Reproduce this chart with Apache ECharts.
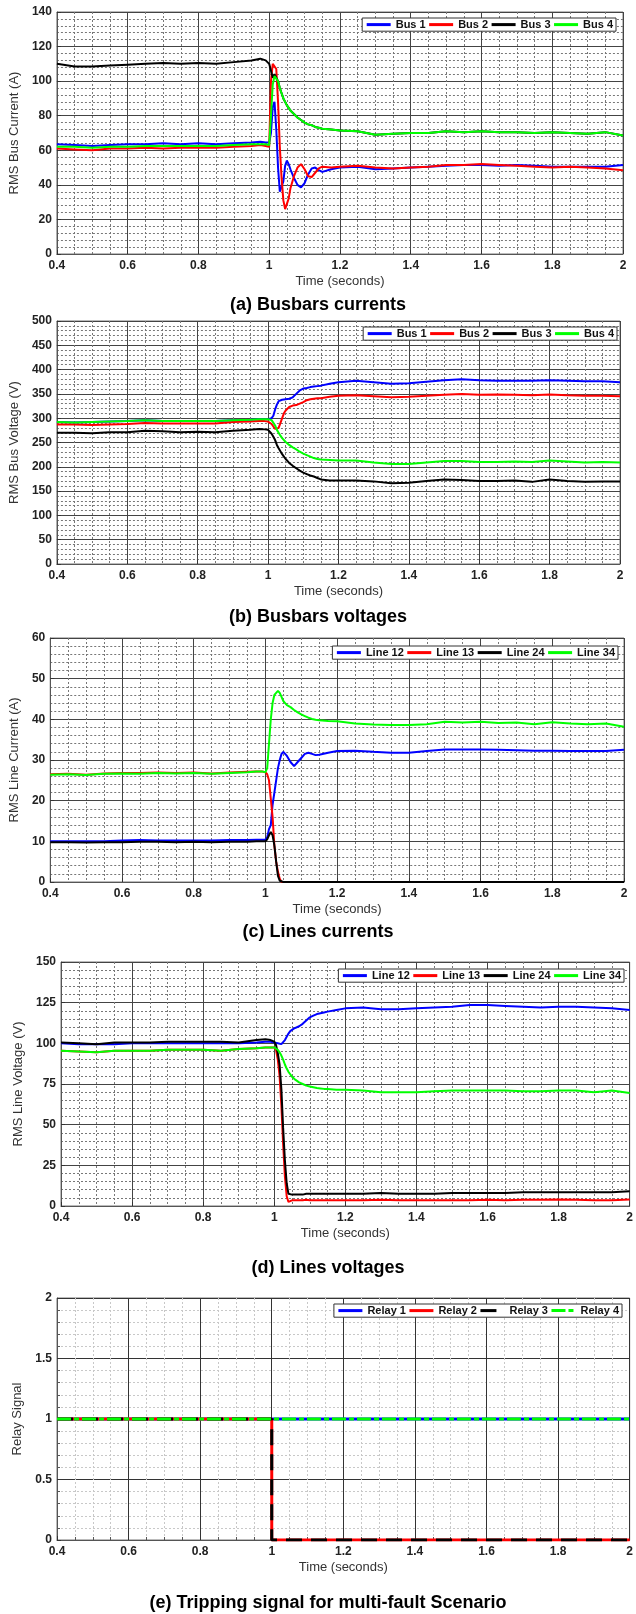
<!DOCTYPE html>
<html>
<head>
<meta charset="utf-8">
<title>Multi-fault scenario</title>
<script src="https://cdn.jsdelivr.net/npm/echarts@6/dist/echarts.min.js"></script>
<style>
html, body { margin: 0; padding: 0; background: #fff; }
#chart { width: 636px; height: 1614px; }
</style>
</head>
<body>
<div id="chart"></div>
<script>
"use strict";
// sample times shared by the four measured panels (seconds)
const tSim = [0.4, 0.45, 0.5, 0.55, 0.6, 0.65, 0.7, 0.75, 0.8, 0.85, 0.9, 0.95, 0.975, 0.99, 1.0,
  1.005, 1.01, 1.015, 1.02, 1.025, 1.03, 1.035, 1.04, 1.045, 1.05, 1.055, 1.06,
  1.07, 1.08, 1.09, 1.1, 1.11, 1.12, 1.13, 1.14, 1.15, 1.175,
  1.2, 1.25, 1.3, 1.35, 1.4, 1.45, 1.5, 1.55, 1.6, 1.65, 1.7, 1.75, 1.8, 1.85, 1.9, 1.95, 2.0];

// (a) busbar currents (A)
const busCurr1 = [63.5, 63, 62.5, 63, 63.5, 63.5, 64, 63.5, 64, 63.5, 64, 64.5, 65, 64.5, 64.5,
  70, 85, 88, 72, 50, 36, 35, 42, 51, 54, 52, 49,
  44, 40, 38.5, 41, 46, 49.5, 50, 48.5, 47.5, 49,
  50, 50.5, 49, 49.5, 50, 50.5, 51, 51.5, 51.5, 51, 51.5, 51, 50.5, 50.5, 50.5, 50.5, 51.5];
const busCurr2 = [61, 60.5, 60, 61, 61, 61.5, 61, 61.5, 61.5, 61.5, 62, 62.5, 63, 62.5, 62,
  100, 110, 111, 107, 88, 62, 44, 31, 26, 27, 32, 38,
  45, 50, 52, 49, 45, 44.5, 47, 49.5, 50.5, 50,
  50.5, 51, 50, 49.5, 50, 50.5, 51.5, 51.5, 52, 51.5, 51, 50.5, 50, 50.5, 50, 49.5, 48.5];
const busCurr3 = [110, 108.5, 108.5, 109, 109.5, 110, 110.5, 110, 110.5, 110, 111, 112, 113, 112, 110,
  106, 102, 104, 102, 100, 96, 93, 90, 88, 86, 84.5, 83,
  81, 79, 77.5, 76, 75, 74.5, 73.5, 73, 72.5, 72,
  71.5, 71, 69, 69.5, 70, 70, 71, 70.5, 71, 70.5, 70.5, 70, 70.5, 70, 69.5, 70.5, 68.5];
const busCurr4 = [62, 62, 61.5, 62, 62, 62.5, 62.5, 62.5, 62.5, 62.5, 63, 63.5, 63.5, 63.5, 63,
  80, 98, 103, 104, 100, 96, 93, 90, 88, 86, 84.5, 83,
  81, 79, 77.5, 76, 75, 74.5, 73.5, 73, 72.5, 72,
  71.5, 71, 69, 69.5, 70, 70, 71, 70.5, 71, 70.5, 70.5, 70, 70.5, 70, 69.5, 70.5, 68.5];

// (b) busbar voltages (V)
const busVolt1 = [292, 291, 292, 293, 294, 296, 294, 294, 294, 294, 296, 297, 298, 298, 298,
  297, 300, 305, 318, 328, 335, 337, 338, 338, 339, 339, 340,
  343, 350, 357, 361, 362, 364, 365, 366, 367, 371,
  374, 377, 374, 371, 372, 375, 378, 380, 378, 377, 377, 377, 378, 377, 376, 376, 374];
const busVolt2 = [287, 287, 286, 287, 288, 290, 289, 289, 289, 289, 292, 293, 294, 294, 293,
  292, 288, 283, 278, 275, 280, 290, 300, 310, 316, 320, 323,
  326, 327, 330, 333, 337, 339, 340, 341, 341, 344,
  346, 347, 345, 343, 344, 346, 348, 350, 348, 349, 348, 347, 349, 347, 346, 346, 345];
const busVolt3 = [270, 270, 269, 271, 271, 274, 273, 271, 272, 271, 274, 276, 278, 277, 276,
  274, 268, 262, 255, 245, 238, 232, 226, 221, 216, 212, 208,
  202, 197, 192, 188, 185, 182, 180, 177, 174, 172,
  172, 172, 170, 166, 167, 171, 174, 173, 171, 171, 172, 169, 174, 171, 169, 170, 170];
const busVolt4 = [292, 291, 292, 293, 294, 296, 294, 294, 294, 294, 296, 297, 298, 298, 298,
  298, 296, 292, 285, 276, 270, 264, 259, 255, 251, 248, 245,
  240, 236, 231, 227, 224, 221, 218, 216, 215, 214,
  213, 213, 209, 206, 206, 209, 212, 212, 210, 210, 211, 210, 213, 211, 209, 210, 209];

// (c) line currents (A)
const lineCurr12 = [10, 10, 10, 10, 10.2, 10.3, 10.2, 10.2, 10.2, 10.2, 10.3, 10.3, 10.4, 10.4, 10.4,
  11, 13, 14, 19, 22, 25, 28, 30, 31.5, 32, 31.8, 31,
  29.5, 28.5, 29.5, 30.5, 31.5, 31.8, 31.5, 31.2, 31.3, 31.8,
  32.2, 32.3, 32, 31.8, 31.8, 32.2, 32.6, 32.6, 32.6, 32.5, 32.4, 32.3, 32.3, 32.2, 32.2, 32.2, 32.5];
const lineCurr13 = [26.5, 26.6, 26.4, 26.7, 26.8, 26.8, 26.9, 26.8, 26.9, 26.7, 26.9, 27.1, 27.2, 27.2, 27,
  26.5, 25, 20.5, 16, 9, 5, 2.5, 0.8, 0, 0, 0, 0,
  0, 0, 0, 0, 0, 0, 0, 0, 0, 0,
  0, 0, 0, 0, 0, 0, 0, 0, 0, 0, 0, 0, 0, 0, 0, 0, 0];
const lineCurr24 = [9.8, 9.8, 9.7, 9.8, 9.8, 9.9, 9.9, 9.8, 9.9, 9.8, 9.9, 9.9, 10, 10, 10,
  10.5, 11.5, 12.3, 11.5, 9, 5, 1.5, 0.3, 0, 0, 0, 0,
  0, 0, 0, 0, 0, 0, 0, 0, 0, 0,
  0, 0, 0, 0, 0, 0, 0, 0, 0, 0, 0, 0, 0, 0, 0, 0, 0];
const lineCurr34 = [26.4, 26.5, 26.3, 26.6, 26.7, 26.6, 26.8, 26.7, 26.8, 26.6, 26.8, 27, 27.2, 27.2, 27,
  28, 34, 40, 44, 46, 46.5, 47, 46.5, 45.5, 44.5, 44, 43.5,
  43, 42.3, 41.7, 41.2, 40.8, 40.4, 40.1, 39.9, 39.8, 39.6,
  39.5, 39, 38.7, 38.6, 38.6, 38.8, 39.4, 39.2, 39.4, 39.1, 39.2, 38.8, 39.3, 39, 38.8, 39, 38.2];

// (d) line voltages (V)
const lineVolt12 = [100, 99.5, 99.5, 99.5, 100, 100, 100, 100, 100, 100, 100, 100.5, 101, 101, 100.5,
  100.5, 100, 99.5, 99.5, 100, 102, 104, 106, 107.5, 108.5, 109, 109.5,
  110.5, 112, 114, 116, 117, 118, 118.5, 119, 119.5, 120.5,
  121.5, 122, 121, 121, 121.5, 122, 122.5, 123.5, 123.5, 123, 122.5, 122, 122.5, 122.5, 122, 121.5, 120.5];
const lineVolt13 = [95.5, 95, 94.5, 95.5, 95.5, 95.5, 96, 96, 96, 95.5, 96.5, 97, 97.5, 97.5, 97.5,
  96, 90, 80, 62, 38, 18, 6, 2.5, 3.5, 3.5, 3.5, 3.5,
  3.5, 3.5, 3.8, 3.5, 3.5, 3.5, 3.5, 3.5, 3.5, 3.5,
  3.5, 3.5, 3.8, 3.5, 3.5, 3.5, 3.5, 3.5, 3.8, 3.5, 3.8, 3.8, 4, 3.8, 3.5, 3.5, 4];
const lineVolt24 = [100.5, 100, 99.5, 100.5, 100.5, 100.5, 101, 101, 101, 101, 100.5, 102, 102.5, 102, 101,
  99, 94, 87, 72, 48, 28, 14, 7.5, 7, 7, 7, 7,
  7, 7, 7.5, 7.5, 7.5, 7.5, 7.5, 7.5, 7.5, 7.5,
  7.5, 7.5, 8, 7.5, 7.5, 7.5, 8, 8, 8, 8, 8.5, 8.5, 8.5, 8.5, 8.5, 8.5, 9];
const lineVolt34 = [95.5, 95, 94.5, 95.5, 95.5, 95.5, 96, 96, 96, 95.5, 96.5, 97, 97.5, 97.5, 97.5,
  97, 96, 94.5, 92.5, 90, 87, 84.5, 82.5, 81, 79.5, 78.5, 77.5,
  76, 75, 74, 73.5, 73, 72.5, 72.3, 72, 72, 71.5,
  71.5, 71, 70, 70, 70, 70.5, 71, 71, 71, 71, 70.5, 70.5, 71, 71, 70, 71, 69.5];

// (e) relay tripping signals
const relayT = [0.4, 1, 1, 2];
const relay1 = [1, 1, 1, 1];
const relay2 = [1, 1, 0, 0];
const relay3 = [1, 1, 0, 0];
const relay4 = [1, 1, 1, 1];

const busNames = ['Bus 1', 'Bus 2', 'Bus 3', 'Bus 4'];
const lineNames = ['Line 12', 'Line 13', 'Line 24', 'Line 34'];
const relayNames = ['Relay 1', 'Relay 2', 'Relay 3', 'Relay 4'];
const panelTitles = ['(a) Busbars currents', '(b) Busbars voltages', '(c) Lines currents',
  '(d) Lines voltages', '(e) Tripping signal for multi-fault Scenario'];
const yNames = ['RMS Bus Current (A)', 'RMS Bus Voltage (V)', 'RMS Line Current (A)',
  'RMS Line Voltage (V)', 'Relay Signal'];
const yMax = [140, 500, 60, 150, 2];
const yStep = [20, 50, 10, 25, 0.5];
const yMinorSplit = [5, 5, 5, 5, 5];

const FONT = '"Liberation Sans", Arial, Helvetica, sans-serif';
const COLORS = ['#0000ff', '#ff0000', '#000000', '#00ff00'];

// panel boxes
const boxes = [
  { left: 51, top: 12, width: 572, height: 242, yGap: 27, legendRight: 20, legendTop: 18, titleX: 318, titleY: 305 },
  { left: 48, top: 321, width: 572, height: 243, yGap: 27, legendRight: 19, legendTop: 327, titleX: 318, titleY: 617 },
  { left: 46, top: 638, width: 578, height: 244, yGap: 21, legendRight: 18, legendTop: 646, titleX: 318, titleY: 932 },
  { left: 61, top: 962, width: 571, height: 244, yGap: 27, legendRight: 12, legendTop: 969, titleX: 328, titleY: 1268 },
  { left: 57, top: 1298, width: 574, height: 242, yGap: 24, legendRight: 14, legendTop: 1304, titleX: 328, titleY: 1603 }
];

function zip(ts, vs) {
  return ts.map((t, k) => [t, vs[k]]);
}

function gridLines(i) {
  const relay = i === 4;
  return {
    major: { color: relay ? '#333' : '#444', width: 1 },
    minor: { color: relay ? '#c8c8c8' : '#777', width: 1, type: [2, 2] }
  };
}

const grids = [], xAxes = [], yAxes = [], legends = [], series = [], titles = [];

boxes.forEach((b, i) => {
  const gl = gridLines(i);
  grids.push({ left: b.left, top: b.top, width: b.width, height: b.height,
    show: true, borderColor: '#777', borderWidth: 1, backgroundColor: '#fff' });
  xAxes.push({
    type: 'value', gridIndex: i, min: 0.4, max: 2, interval: 0.2,
    name: 'Time (seconds)', nameLocation: 'middle', nameGap: 21,
    nameTextStyle: { fontFamily: FONT, fontSize: 13, color: '#333' },
    axisLine: { show: true, onZero: false, lineStyle: { color: '#555' } },
    axisTick: { show: true, inside: true, length: 4, lineStyle: { color: '#333' } },
    minorTick: { show: i === 4, splitNumber: 4, length: 3, lineStyle: { color: '#555' } },
    axisLabel: { fontFamily: FONT, fontSize: 12, fontWeight: 'bold', color: '#222', margin: 6 },
    splitLine: { show: true, lineStyle: gl.major },
    minorSplitLine: { show: true, lineStyle: gl.minor }
  });
  yAxes.push({
    type: 'value', gridIndex: i, min: 0, max: yMax[i], interval: yStep[i],
    name: yNames[i], nameLocation: 'middle', nameGap: b.yGap,
    nameTextStyle: { fontFamily: FONT, fontSize: 13, color: '#333' },
    axisLine: { show: true, lineStyle: { color: '#555' } },
    axisTick: { show: true, inside: true, length: 4, lineStyle: { color: '#333' } },
    minorTick: { show: i === 4, splitNumber: yMinorSplit[i], length: 3, lineStyle: { color: '#555' } },
    axisLabel: { fontFamily: FONT, fontSize: 12, fontWeight: 'bold', color: '#222', margin: 5 },
    splitLine: { show: true, lineStyle: gl.major },
    minorSplitLine: { show: true, lineStyle: gl.minor }
  });
  const names = i < 2 ? busNames : (i < 4 ? lineNames : relayNames);
  legends.push({
    right: b.legendRight, top: b.legendTop, orient: 'horizontal',
    data: names, selectedMode: false,
    itemWidth: 24, itemHeight: 14, itemGap: 2, padding: [1, 3],
    borderColor: '#333', borderWidth: 1, backgroundColor: '#fff',
    lineStyle: { width: 3 },
    itemStyle: { opacity: 0, borderWidth: 0 },
    textStyle: { fontFamily: FONT, fontSize: 11, fontWeight: 'bold', color: '#111' }
  });
  titles.push({
    type: 'text', x: b.titleX, y: b.titleY,
    style: { text: panelTitles[i], textAlign: 'center', textVerticalAlign: 'middle',
      font: 'bold 18px ' + FONT, fill: '#000' }
  });
});

function addLine(i, name, data, color, width, dash) {
  series.push({
    type: 'line', name: name, xAxisIndex: i, yAxisIndex: i,
    data: data, symbol: 'none', showSymbol: false, animation: false,
    lineStyle: { color: color, width: width, type: dash || 'solid' },
    itemStyle: { color: color, opacity: 0 }
  });
}

[busCurr1, busCurr2, busCurr3, busCurr4].forEach((v, k) => addLine(0, busNames[k], zip(tSim, v), COLORS[k], 2));
[busVolt1, busVolt2, busVolt3, busVolt4].forEach((v, k) => addLine(1, busNames[k], zip(tSim, v), COLORS[k], 2));
[lineCurr12, lineCurr13, lineCurr24, lineCurr34].forEach((v, k) => addLine(2, lineNames[k], zip(tSim, v), COLORS[k], 2));
[lineVolt12, lineVolt13, lineVolt24, lineVolt34].forEach((v, k) => addLine(3, lineNames[k], zip(tSim, v), COLORS[k], 2));

const relayDash = ['solid', 'solid', [16, 9], [14, 3, 5, 3]];
[relay1, relay2, relay3, relay4].forEach((v, k) => addLine(4, relayNames[k], zip(relayT, v), COLORS[k], 3, relayDash[k]));

const myChart = echarts.init(document.getElementById('chart'), null, { renderer: 'canvas' });
myChart.setOption({
  backgroundColor: '#fff',
  animation: false,
  grid: grids,
  xAxis: xAxes,
  yAxis: yAxes,
  legend: legends,
  series: series,
  graphic: titles
});

window.onresize = function () {
  myChart.resize();
};
</script>
</body>
</html>
